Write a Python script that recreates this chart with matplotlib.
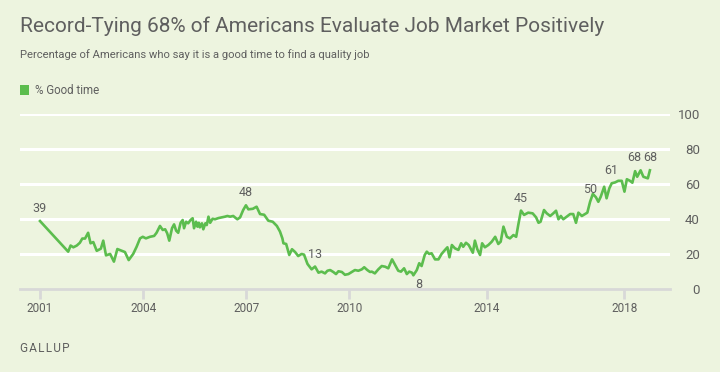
import matplotlib
matplotlib.use("Agg")
import matplotlib.pyplot as plt
from matplotlib.patches import Rectangle

plt.rcParams['font.family'] = ['Roboto', 'DejaVu Sans']

# Datos (ano decimal, % buen momento)
years = [
    2001.00, 2001.82, 2001.89, 2001.97, 2002.07, 2002.16, 2002.23, 2002.31, 2002.40, 2002.47,
    2002.55, 2002.65, 2002.77, 2002.84, 2002.92, 2003.04, 2003.15, 2003.25, 2003.38, 2003.47,
    2003.58, 2003.71, 2003.81, 2003.91, 2003.99, 2004.08, 2004.20, 2004.32, 2004.39, 2004.49,
    2004.57, 2004.64, 2004.70, 2004.76, 2004.84, 2004.90, 2004.96, 2005.02, 2005.09, 2005.15,
    2005.19, 2005.25, 2005.31, 2005.38, 2005.44, 2005.48, 2005.54, 2005.58, 2005.62, 2005.65,
    2005.71, 2005.75, 2005.81, 2005.85, 2005.90, 2005.95, 2006.02, 2006.09, 2006.19, 2006.29,
    2006.38, 2006.45, 2006.53, 2006.62, 2006.74, 2006.82, 2006.91, 2006.99, 2007.06, 2007.19,
    2007.30, 2007.40, 2007.52, 2007.64, 2007.77, 2007.89, 2007.98, 2008.05, 2008.08, 2008.16,
    2008.25, 2008.33, 2008.42, 2008.51, 2008.61, 2008.68, 2008.78, 2008.90, 2009.00, 2009.10,
    2009.19, 2009.29, 2009.36, 2009.44, 2009.53, 2009.61, 2009.68, 2009.78, 2009.87, 2009.97,
    2010.07, 2010.16, 2010.26, 2010.36, 2010.43, 2010.52, 2010.60, 2010.65, 2010.74, 2010.84,
    2010.94, 2011.04, 2011.13, 2011.24, 2011.33, 2011.42, 2011.50, 2011.59, 2011.67, 2011.74,
    2011.82, 2011.86, 2011.96, 2012.03, 2012.10, 2012.19, 2012.25, 2012.32, 2012.39, 2012.49,
    2012.59, 2012.68, 2012.78, 2012.85, 2012.91, 2012.98, 2013.07, 2013.17, 2013.25, 2013.31,
    2013.39, 2013.47, 2013.59, 2013.65, 2013.72, 2013.80, 2013.86, 2013.94, 2014.04, 2014.14,
    2014.24, 2014.33, 2014.40, 2014.48, 2014.58, 2014.67, 2014.77, 2014.85, 2014.91, 2014.99,
    2015.08, 2015.20, 2015.33, 2015.43, 2015.50, 2015.56, 2015.66, 2015.74, 2015.84, 2015.93,
    2016.01, 2016.08, 2016.15, 2016.22, 2016.32, 2016.42, 2016.51, 2016.59, 2016.66, 2016.76,
    2016.85, 2016.92, 2017.00, 2017.08, 2017.17, 2017.24, 2017.31, 2017.41, 2017.48, 2017.56,
    2017.63, 2017.73, 2017.82, 2017.92, 2018.00, 2018.07, 2018.16, 2018.23, 2018.31, 2018.37,
    2018.47, 2018.55, 2018.68, 2018.74,
]
good_time = [
    39, 21.5, 25, 24, 25, 26.6, 29, 29, 32.3, 26.3,
    27, 22, 23.2, 27.8, 19.4, 20.2, 15.8, 23, 22, 21.3,
    16.7, 20.2, 24.3, 29.1, 30, 29.1, 30, 30.5, 32.3, 36.2,
    33.9, 34.3, 32, 27.8, 34.9, 37.1, 33.5, 32.3, 38, 39.6,
    34.9, 38.6, 37.7, 39.6, 40.6, 34.9, 38.6, 35.8, 38, 35.4,
    37.7, 34.3, 37.7, 36.7, 41.5, 38, 40.3, 40, 40.7, 41.1,
    41.5, 41.9, 41.5, 41.9, 40, 41.1, 45.3, 48, 45.7, 46,
    47.2, 43, 42.6, 39.2, 38.6, 36.2, 33, 29.1, 26.3, 25.9,
    19.6, 22.9, 21.3, 19, 20.2, 19.8, 14.5, 11.4, 13, 9.5,
    10.1, 9.1, 10.6, 11, 9.9, 8.7, 10.3, 9.9, 8.3, 8.7,
    9.9, 11, 10.6, 11.4, 12.6, 11, 9.9, 10.1, 9.1, 11.4,
    13.3, 12.9, 12, 17.1, 13.9, 10.6, 10.1, 12, 8.7, 10.1,
    9.5, 8, 11, 14.9, 13.3, 19.6, 21.5, 20.2, 20.6, 17.1,
    17.1, 20.2, 22.5, 24, 18.3, 25.3, 23.4, 22.5, 26.3, 24.3,
    26.6, 25.3, 20.9, 27.8, 22.9, 19.6, 26.3, 24, 25.3, 27.2,
    30, 25.9, 27.2, 35.8, 30, 29.1, 31, 30, 36.7, 45,
    42.5, 43.8, 43.4, 41.1, 38, 38.6, 45.3, 43.4, 41.9, 43.4,
    44.9, 40, 41.9, 40, 41.5, 43, 43, 38, 43.8, 41.9,
    43, 43.8, 50, 54.5, 52.6, 50, 52.9, 58.6, 52, 57.7,
    60.6, 61.1, 62, 62, 55.8, 62.9, 62, 60.9, 67.5, 64.3,
    68, 64.3, 63.4, 68,
]

# Etiquetas de valores destacados
label_years = [2001.00, 2006.99, 2009.00, 2012.03, 2014.99, 2017.00, 2017.63, 2018.28, 2018.76]
label_values = [39, 48, 13, 8, 45, 50, 61, 68, 68]

tick_years = [2001, 2004, 2007, 2010, 2014, 2018]
y_ticks = [0, 20, 40, 60, 80, 100]

bg = '#edf4df'
green = '#5cbd4e'
grey_text = '#5f5f5f'

fig = plt.figure(figsize=(7.2, 3.72), dpi=100, facecolor=bg)
ax = fig.add_axes([20 / 720, (372 - 289.3) / 372, 650 / 720, 175 / 372])
ax.set_facecolor(bg)

for v in y_ticks[1:]:
    ax.axhline(v, color='white', lw=2.2, zorder=1)

ax.plot(years, good_time, color=green, lw=1.9, zorder=3)

for yr, val in zip(label_years, label_values):
    if val == 8:
        ax.annotate(str(val), (yr, val), xytext=(0, -9), textcoords='offset pixels',
                    ha='center', va='center', fontsize=9, color=grey_text)
    else:
        ax.annotate(str(val), (yr, val), xytext=(0, 12.5), textcoords='offset pixels',
                    ha='center', va='center', fontsize=9, color=grey_text)

ax.set_xlim(2001 - 20 / 34.38, 2001 + 630 / 34.38)
ax.set_ylim(0, 100)

ax.set_xticks(tick_years)
ax.set_xticklabels([str(t) for t in tick_years])
ax.tick_params(axis='x', length=7, width=2, color='#d8d8d8', labelcolor=grey_text,
               labelsize=8.5, pad=2)

ax.set_yticks(y_ticks)
ax.yaxis.tick_right()
ax.tick_params(axis='y', length=0, labelcolor=grey_text, labelsize=9.5, pad=21.6)
for lab in ax.get_yticklabels():
    lab.set_horizontalalignment('right')

for side in ['top', 'left', 'right']:
    ax.spines[side].set_visible(False)
ax.spines['bottom'].set_color('#d8d8d8')
ax.spines['bottom'].set_linewidth(2)

fig.text(20 / 720, 1 - 26 / 372, 'Record-Tying 68% of Americans Evaluate Job Market Positively',
         fontsize=15, color=grey_text, va='center', ha='left')
fig.text(20 / 720, 1 - 55 / 372, 'Percentage of Americans who say it is a good time to find a quality job',
         fontsize=8.1, color=grey_text, va='center', ha='left')
fig.patches.append(Rectangle((20 / 720, 1 - 95 / 372), 9 / 720, 10 / 372,
                             transform=fig.transFigure, facecolor=green, edgecolor='none'))
fig.text(35 / 720, 1 - 90 / 372, '% Good time', fontsize=8.3, color=grey_text, va='center', ha='left')
fig.text(20 / 720, 1 - 349 / 372, 'G A L L U P'.replace(' ', '\u200a'), fontsize=8.5, color=grey_text,
         va='center', ha='left')

fig.savefig('out.png', dpi=100, facecolor=bg)
